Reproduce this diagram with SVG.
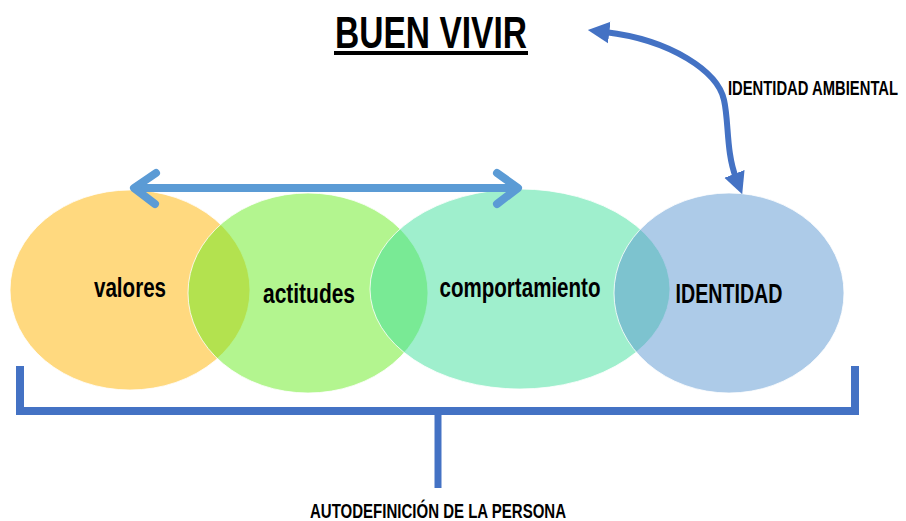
<svg xmlns="http://www.w3.org/2000/svg" width="906" height="521" viewBox="0 0 906 521">
<defs>
<style>
.lbl{font-family:"Liberation Sans",Arial,sans-serif;font-weight:bold;fill:#000;text-anchor:middle}
.ell{fill-opacity:0.5;stroke:#fff;stroke-width:1;stroke-opacity:0.8}
.bracket{fill:none;stroke:#4472C4;stroke-width:8}
</style>
<marker id="tri" viewBox="0 0 10 10" refX="2" refY="5" markerWidth="3.6" markerHeight="4.4" orient="auto-start-reverse" markerUnits="strokeWidth">
<path d="M0,0 L10,5 L0,10 Z" fill="#4472C4"/>
</marker>
</defs>
<rect width="906" height="521" fill="#fff"/>
<g id="title">
<text class="lbl" x="431" y="48" font-size="45" textLength="192" lengthAdjust="spacingAndGlyphs">BUEN VIVIR</text>
<rect x="334" y="51" width="194" height="4" fill="#000"/>
</g>
<g id="node-valores">
<ellipse class="ell" cx="130" cy="290" rx="120" ry="100" fill="#FFB300"/>
<text class="lbl" x="130" y="297" font-size="27" textLength="72" lengthAdjust="spacingAndGlyphs">valores</text>
</g>
<g id="node-actitudes">
<ellipse class="ell" cx="308" cy="293" rx="120" ry="100" fill="#67EB1F"/>
<text class="lbl" x="309" y="303" font-size="27" textLength="92" lengthAdjust="spacingAndGlyphs">actitudes</text>
</g>
<g id="node-comportamiento">
<ellipse class="ell" cx="520" cy="289" rx="150" ry="100" fill="#3FDF9B"/>
<text class="lbl" x="520" y="297" font-size="27" textLength="161" lengthAdjust="spacingAndGlyphs">comportamiento</text>
</g>
<g id="node-identidad">
<ellipse class="ell" cx="729" cy="293" rx="115" ry="100" fill="#5B97D1"/>
<text class="lbl" x="729" y="303" font-size="28" textLength="107" lengthAdjust="spacingAndGlyphs">IDENTIDAD</text>
</g>
<g id="label-ambiental">
<text class="lbl" x="0" y="0" font-size="21" transform="translate(813,95) scale(0.705,1)">IDENTIDAD AMBIENTAL</text>
</g>
<g id="label-autodefinicion">
<text class="lbl" x="438" y="518" font-size="20" textLength="256" lengthAdjust="spacingAndGlyphs">AUTODEFINICIÓN DE LA PERSONA</text>
</g>
<g id="connectors">
<g fill="none" stroke="#5B9BD5" stroke-width="8" stroke-linecap="round" stroke-linejoin="round">
<line x1="136" y1="188" x2="516" y2="188"/>
<polyline points="156,173 134,188 155,204"/>
<polyline points="497,173 518,188 497,204"/>
</g>
<path d="M605,32 C672,40 718,72 724,100 C729,122 726,152 736,178" fill="none" stroke="#4472C4" stroke-width="6" marker-start="url(#tri)" marker-end="url(#tri)"/>
<path class="bracket" d="M20,366 V411 H855 V366"/>
<line x1="438" y1="411" x2="438" y2="488" stroke="#4472C4" stroke-width="7"/>
</g>
</svg>
